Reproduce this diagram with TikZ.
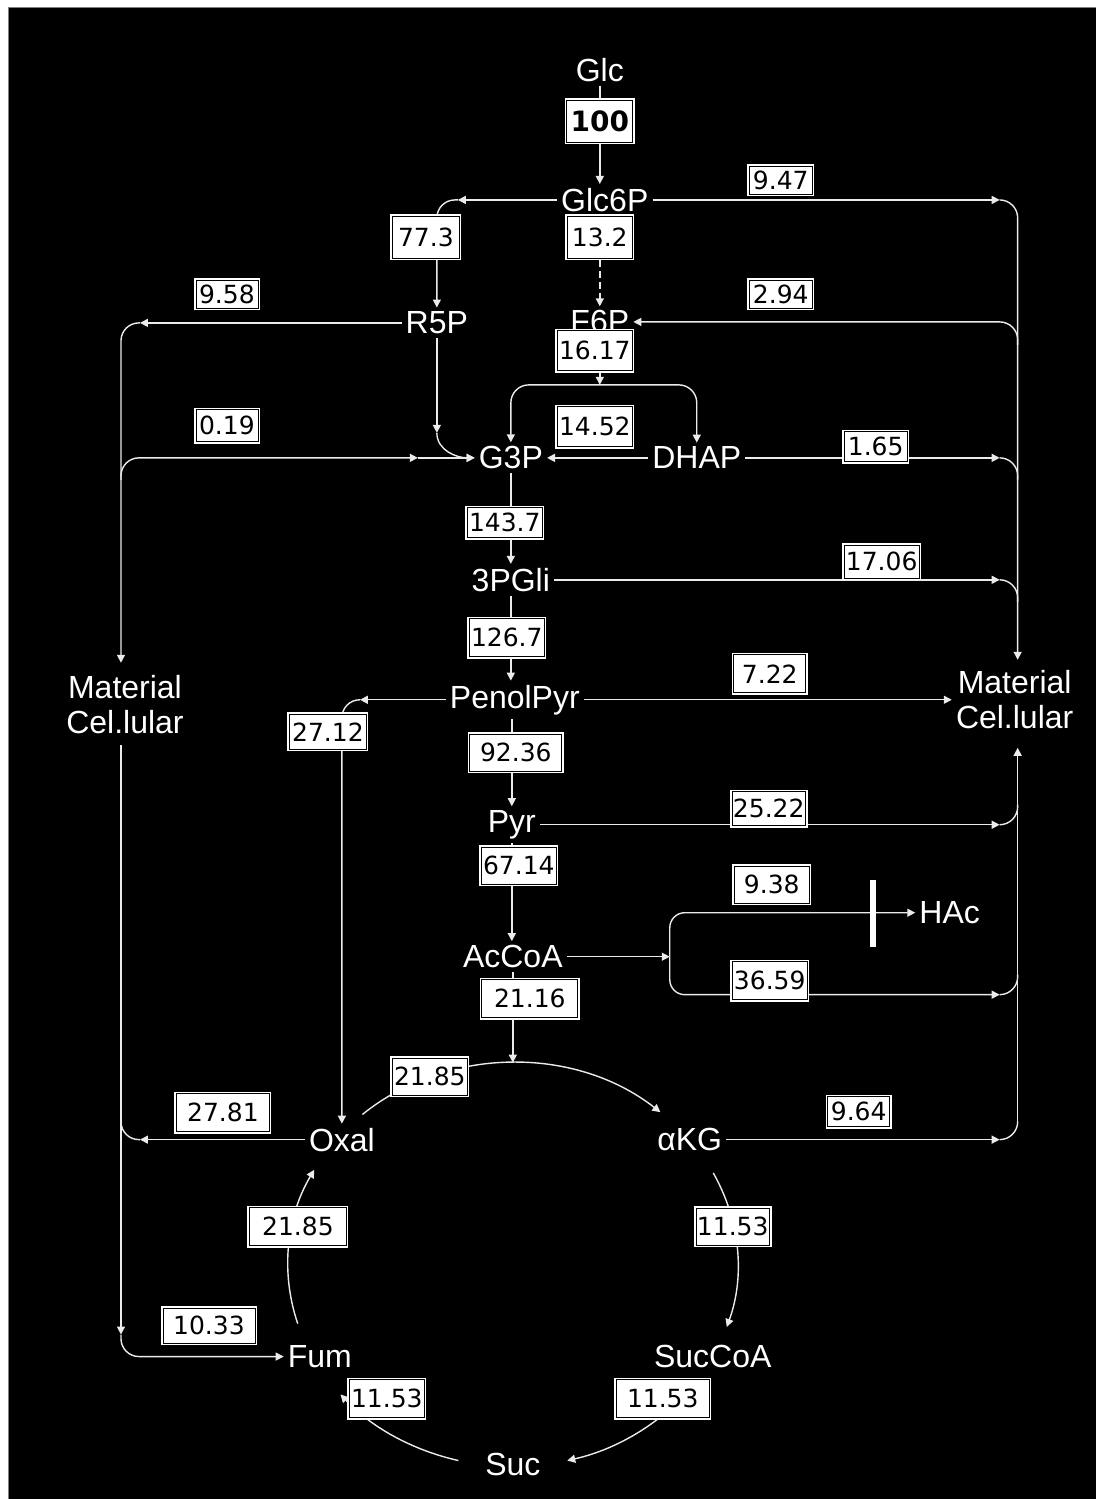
\documentclass[tikz,border=0pt]{standalone}
\usepackage{fontspec}
\setmainfont{Liberation Sans}
\newfontfamily\numfont{DejaVu Sans}
\usetikzlibrary{arrows.meta,calc}

\begin{document}
\begin{tikzpicture}[
  x=1pt,y=1pt,
  met/.style={text=white,font=\fontsize{32}{35}\selectfont,inner sep=4pt,align=center},
  num/.style 2 args={draw=black,fill=white,line width=0.8pt,preaction={draw=white,line width=4pt},
    minimum width=#1,minimum height=#2,inner sep=1pt,font=\numfont\fontsize{25}{27}\selectfont},
  flow/.style={draw=black!8,line width=1.4pt,-{Triangle[length=8pt,width=8pt]}},
  line/.style={draw=black!8,line width=1.4pt}
]
  % page and frame
  \fill[white] (0,0) rectangle (1096,-1499);
  \fill[black] (8,-7) rectangle (1096,-1499);
  \draw[gray,line width=1pt] (8.5,-1499) -- (8.5,-7.5) -- (1096,-7.5);
  \useasboundingbox (0,0) rectangle (1096,-1499);

  % metabolites
  \node[met] (glc) at (600,-70) {Glc};
  \node[met] (glc6p) at (605,-200) {Glc6P};
  \node[met] (r5p) at (437,-323) {R5P};
  \node[met] (f6p) at (600,-322) {F6P};
  \node[met] (g3p) at (511,-458) {G3P};
  \node[met] (dhap) at (697,-458) {DHAP};
  \node[met] (pgli) at (511,-580) {3PGli};
  \node[met] (penol) at (515,-700) {PenolPyr};
  \node[met] (pyr) at (512,-825) {Pyr};
  \node[met] (accoa) at (513,-957) {AcCoA};
  \node[met] (matL) at (125,-705) {Material\\Cel.lular};
  \node[met] (matR) at (1015,-700) {Material\\Cel.lular};
  \node[met] (hac) at (950,-913) {HAc};
  \node[met] (oxal) at (342,-1140) {Oxal};
  \node[met] (akg) at (690,-1140) {αKG};
  \node[met] (fum) at (320,-1357) {Fum};
  \node[met] (succoa) at (713,-1357) {SucCoA};
  \node[met] (suc) at (513,-1465) {Suc};

  % glycolysis and pentose branch
  \draw[flow] (glc.south -| 600,0) -- (glc6p.north -| 600,0);
  \draw[flow,dash pattern=on 7pt off 4pt] (f6p |- glc6p.south) -- (f6p.north);
  \coordinate (a773) at (458,-200);
  \draw[flow] (glc6p.west) -- (a773);
  \draw[flow,rounded corners=18] (a773) -| (r5p.north);
  \coordinate (a958) at (140,-323);
  \coordinate (lbusT) at (121,-663);
  \draw[flow] (r5p.west) -- (a958);
  \draw[flow,rounded corners=18] (a958) -| (lbusT);
  \coordinate (r5pin) at (437,-433);
  \draw[flow] (r5p.south) -- (r5pin);
  \draw[flow] (r5pin) to[out=-90,in=180] (g3p.west);
  \coordinate (b019) at (121,-480);
  \coordinate (a019) at (418,-458);
  \draw[flow,rounded corners=18] (b019) |- (a019);
  \draw[flow] (a019) -- (g3p.west);
  \coordinate (split) at (600,-385);
  \draw[flow] (f6p.south) -- (split);
  \draw[flow,rounded corners=18] (split) -| (g3p.north);
  \draw[flow,rounded corners=18] (split) -| (dhap.north);
  \draw[flow] (dhap.west) -- (g3p.east);
  \draw[flow] (g3p.south) -- (pgli.north);
  \draw[flow] (pgli.south) -- (penol.north -| pgli);
  \draw[flow] (penol.south -| pyr) -- (pyr.north);
  \draw[flow] (pyr.south) -- (accoa.north -| pyr);

  % right bus, upper part
  \coordinate (a947) at (1000,-200);
  \coordinate (rbusT) at (1018,-660);
  \draw[flow] (glc6p.east) -- (a947);
  \draw[flow,rounded corners=18] (a947) -| (rbusT);
  \coordinate (b294) at (1018,-345);
  \draw[flow,rounded corners=18] (b294) |- (f6p.east);
  \coordinate (a165) at (1000,-458);
  \coordinate (b165) at (1018,-480);
  \draw[flow] (dhap.east) -- (a165);
  \draw[line,rounded corners=18] (a165) -| (b165);
  \coordinate (a1706) at (1000,-580);
  \coordinate (b1706) at (1018,-602);
  \draw[flow] (pgli.east) -- (a1706);
  \draw[line,rounded corners=18] (a1706) -| (b1706);

  % anaplerosis and outputs
  \coordinate (a2712) at (360,-700);
  \draw[flow] (penol.west) -- (a2712);
  \draw[flow,rounded corners=18] (a2712) -| (oxal.north);
  \draw[flow] (penol.east) -- (matR.west |- penol);
  \coordinate (a2522) at (1000,-825);
  \coordinate (b2522) at (1018,-805);
  \draw[flow] (pyr.east) -- (a2522);
  \draw[line,rounded corners=18] (a2522) -| (b2522);

  % acetate branch
  \coordinate (fork) at (670,-957);
  \draw[flow] (accoa.east) -- (fork);
  \draw[flow,rounded corners=15] (fork) |- (hac.west);
  \coordinate (a3659) at (1000,-995);
  \coordinate (b3659) at (1018,-975);
  \draw[flow,rounded corners=15] (fork) |- (a3659);
  \draw[line,rounded corners=18] (a3659) -| (b3659);
  \draw[white,line width=6pt] (873,-880) -- (873,-947);

  % right bus, lower part
  \coordinate (rbusB) at (1018,-1122);
  \coordinate (rbusM) at (1018,-748);
  \draw[flow] (rbusB) -- (rbusM);
  \coordinate (a964) at (1000,-1140);
  \draw[flow] (akg.east) -- (a964);
  \draw[line,rounded corners=18] (a964) -| (rbusB);

  % left bus, lower part
  \coordinate (lbusM) at (121,-745);
  \coordinate (a1033) at (121,-1335);
  \draw[flow] (lbusM) -- (a1033);
  \draw[flow,rounded corners=18] (a1033) |- (fum.west);
  \coordinate (a2781) at (140,-1140);
  \coordinate (b2781) at (121,-1115);
  \draw[flow] (oxal.west) -- (a2781);
  \draw[line,rounded corners=18] (a2781) -| (b2781);

  % TCA cycle
  \coordinate (tcatop) at (513,-1063);
  \draw[flow] (accoa.south -| tcatop) -- (tcatop);
  \coordinate (tca) at (513,-1265);
  \draw[flow] ($(tca)+(132:225 and 202)$) arc[start angle=132,end angle=49,x radius=225,y radius=202];
  \draw[flow] ($(tca)+(27:225 and 202)$) arc[start angle=27,end angle=-18,x radius=225,y radius=202];
  \draw[flow] ($(tca)+(-40:225 and 202)$) arc[start angle=-40,end angle=-76,x radius=225,y radius=202];
  \draw[flow] ($(tca)+(-104:225 and 202)$) arc[start angle=-104,end angle=-140,x radius=225,y radius=202];
  \draw[flow] ($(tca)+(197:225 and 202)$) arc[start angle=197,end angle=152,x radius=225,y radius=202];

  % flux values
  \node[num={66}{42},font=\numfont\bfseries\fontsize{28}{30}\selectfont] (v100) at (600,-121) {100};
  \node[num={63}{28}] (v947) at (781,-180) {9.47};
  \node[num={67}{42}] (v773) at (426,-237) {77.3};
  \node[num={65}{42}] (v132) at (600,-237) {13.2};
  \node[num={62}{28}] (v958) at (227,-294) {9.58};
  \node[num={63}{28}] (v294) at (781,-294) {2.94};
  \node[num={75}{40}] (v1617) at (595,-351) {16.17};
  \node[num={62}{32}] (v019) at (227,-426) {0.19};
  \node[num={75}{40}] (v1452) at (595,-427) {14.52};
  \node[num={63}{30}] (v165) at (876,-447) {1.65};
  \node[num={75}{30}] (v1437) at (505,-523) {143.7};
  \node[num={75}{33}] (v1706) at (882,-562) {17.06};
  \node[num={75}{38}] (v1267) at (507,-638) {126.7};
  \node[num={72}{38}] (v722) at (770,-674) {7.22};
  \node[num={77}{35}] (v2712) at (328,-732) {27.12};
  \node[num={92}{37}] (v9236) at (516,-753) {92.36};
  \node[num={73}{34}] (v2522) at (769,-809) {25.22};
  \node[num={75}{37}] (v6714) at (519,-866) {67.14};
  \node[num={75}{37}] (v938) at (772,-885) {9.38};
  \node[num={75}{38}] (v3659) at (770,-981) {36.59};
  \node[num={96}{38}] (v2116) at (530,-999) {21.16};
  \node[num={75}{37}] (v2185a) at (430,-1077) {21.85};
  \node[num={93}{38}] (v2781) at (223,-1113) {27.81};
  \node[num={62}{30}] (v964) at (859,-1112) {9.64};
  \node[num={97}{38}] (v2185b) at (298,-1227) {21.85};
  \node[num={73}{37}] (v1153a) at (733,-1227) {11.53};
  \node[num={92}{35}] (v1033) at (209,-1326) {10.33};
  \node[num={75}{38}] (v1153b) at (387,-1399) {11.53};
  \node[num={93}{38}] (v1153c) at (663,-1399) {11.53};
\end{tikzpicture}
\end{document}
